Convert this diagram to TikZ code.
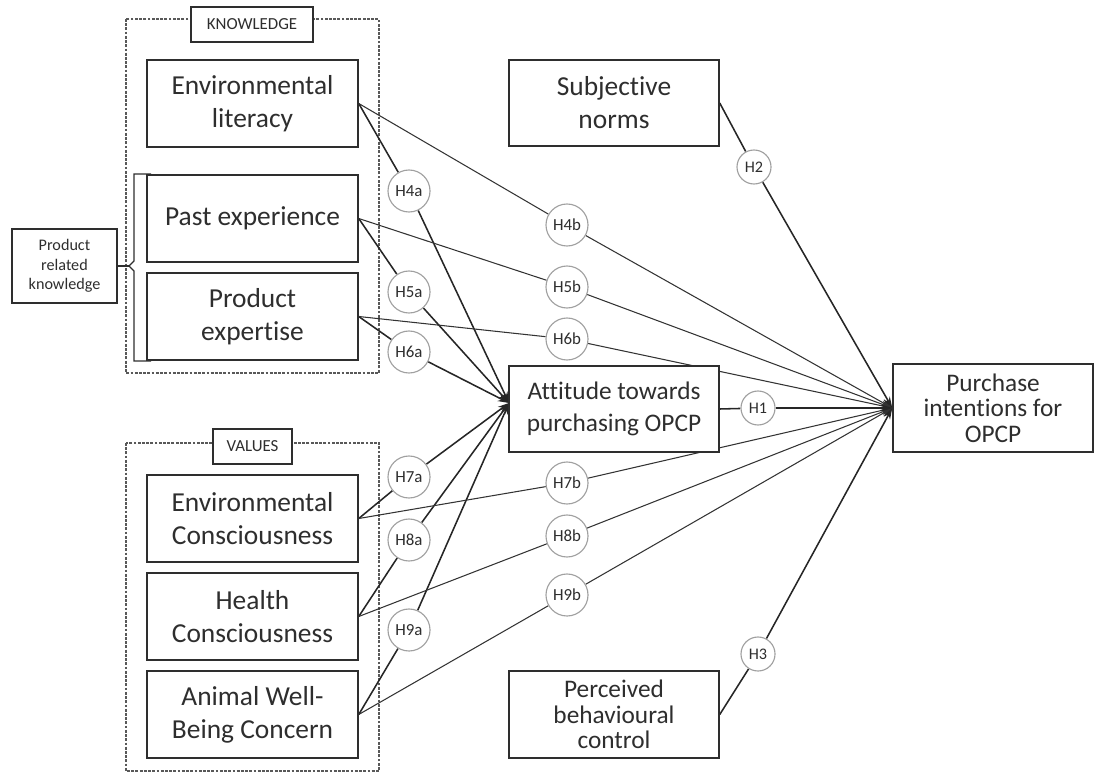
\documentclass[tikz,border=0pt]{standalone}
\usepackage{fontspec}
\setmainfont{Carlito}[Ligatures=NoCommon]
\usetikzlibrary{arrows.meta}
\pgfdeclarelayer{back}
\pgfsetlayers{back,main}
\definecolor{ink}{HTML}{2E2E2E}
\definecolor{ring}{HTML}{A0A0A0}
\tikzset{
	constr/.style={draw=ink, line width=1pt, fill=white, align=center, text=ink, inner sep=1pt,
		minimum width=5.275cm, minimum height=2.175cm, font=\fontsize{19.5}{23.5}\selectfont},
	tag/.style={draw=ink, line width=0.9pt, fill=white, align=center, text=ink, inner sep=1pt,
		minimum height=0.875cm, font=\fontsize{11.5}{14}\selectfont},
	frame/.style={draw=black!65, line width=0.8pt, dash pattern=on 2pt off 1pt},
	hyp/.style={circle, draw=ring, line width=0.8pt, fill=white, text=ink, inner sep=0pt,
		minimum size=1.05cm, font=\fontsize{12}{14}\selectfont},
	hypsm/.style={hyp, minimum size=0.85cm, font=\fontsize{11.5}{14}\selectfont},
	apath/.style={draw=black!85, line width=1.1pt},
	bpath/.style={draw=black!80, line width=0.75pt},
	tip/.style={-{Stealth[length=8pt,width=5pt]}}
}

\begin{document}
\begin{tikzpicture}[x=0.025cm, y=-0.025cm]
	%%%%% START %%%%%
	\useasboundingbox (0,0) rectangle (1096,773);
	
	% knowledge block
	\node[constr] (envlit) at (252.5, 103.5) {Environmental\\literacy};
	\node[constr] (pastexp) at (252.5, 218.5) {Past experience};
	\node[constr] (prodexp) at (252.5, 316.5) {Product\\expertise};
	\node[tag, minimum width=3.05cm, font=\fontsize{12}{14}\selectfont] (know) at (252, 24.5) {KNOWLEDGE};
	\node[tag, minimum width=2.625cm, minimum height=1.85cm] (prk) at (64.5, 266) {Product\\related\\knowledge};
	\coordinate (brk) at (129, 266);
	
	% values block
	\node[constr] (envcon) at (252.5, 518.5) {Environmental\\Consciousness};
	\node[constr] (health) at (252.5, 616.5) {Health\\Consciousness};
	\node[constr] (animal) at (252.5, 714.5) {Animal Well-\\Being Concern};
	\node[tag, minimum width=1.975cm, font=\fontsize{12}{14}\selectfont] (vals) at (252.5, 446.5) {VALUES};
	
	% middle and right
	\node[constr, minimum width=5.25cm, minimum height=2.15cm] (subj) at (614, 103) {Subjective\\norms};
	\node[constr, minimum width=5.25cm, minimum height=2.15cm, font=\fontsize{18}{22.5}\selectfont] (att) at (614, 409) {Attitude towards\\purchasing OPCP};
	\node[constr, minimum width=5.25cm, minimum height=2.175cm, font=\fontsize{18}{18}\selectfont] (pbc) at (614, 714.5) {Perceived\\behavioural\\control};
	\node[constr, minimum width=5cm, minimum height=2.2cm, font=\fontsize{18}{18}\selectfont] (pur) at (993, 408) {Purchase\\intentions for\\OPCP};
	\coordinate (attin) at (509, 403);
	
	% hypotheses
	\node[hyp] (h4a) at (409, 191) {H4a};
	\node[hyp] (h5a) at (409, 292) {H5a};
	\node[hyp] (h6a) at (409, 352) {H6a};
	\node[hyp] (h7a) at (409, 477) {H7a};
	\node[hyp] (h8a) at (409, 540) {H8a};
	\node[hyp] (h9a) at (409, 630) {H9a};
	\node[hyp] (h4b) at (567, 225) {H4b};
	\node[hyp] (h5b) at (567, 287) {H5b};
	\node[hyp] (h6b) at (567, 339) {H6b};
	\node[hyp] (h7b) at (567, 483) {H7b};
	\node[hyp] (h8b) at (567, 536) {H8b};
	\node[hyp] (h9b) at (567, 595) {H9b};
	\node[hypsm] (h1) at (758, 408) {H1};
	\node[hypsm] (h2) at (754, 167) {H2};
	\node[hypsm] (h3) at (758, 654) {H3};
	
	\begin{pgfonlayer}{back}
		\draw[frame] (126, 19) rectangle (379, 373);
		\draw[frame] (126, 443) rectangle (379, 771);
		\draw[draw=ink, line width=1pt] (151, 174) -- (134, 174) -- (134, 261) -- (brk) -- (134, 271) -- (134, 361) -- (151, 361);
		\draw[draw=ink, line width=0.9pt] (prk.east) -- (brk);
		
		% paths to attitude
		\draw[apath] (envlit.east) -- (h4a);
		\draw[apath, tip] (h4a) -- (attin);
		\draw[apath] (pastexp.east) -- (h5a);
		\draw[apath, tip] (h5a) -- (attin);
		\draw[apath] (prodexp.east) -- (h6a);
		\draw[apath, tip] (h6a) -- (attin);
		\draw[apath] (envcon.east) -- (h7a);
		\draw[apath, tip] (h7a) -- (attin);
		\draw[apath] (health.east) -- (h8a);
		\draw[apath, tip] (h8a) -- (attin);
		\draw[apath] (animal.east) -- (h9a);
		\draw[apath, tip] (h9a) -- (attin);
		
		% paths to intentions
		\draw[bpath] (envlit.east) -- (h4b);
		\draw[bpath, tip] (h4b) -- (pur.west);
		\draw[bpath] (pastexp.east) -- (h5b);
		\draw[bpath, tip] (h5b) -- (pur.west);
		\draw[bpath] (prodexp.east) -- (h6b);
		\draw[bpath, tip] (h6b) -- (pur.west);
		\draw[bpath] (envcon.east) -- (h7b);
		\draw[bpath, tip] (h7b) -- (pur.west);
		\draw[bpath] (health.east) -- (h8b);
		\draw[bpath, tip] (h8b) -- (pur.west);
		\draw[bpath] (animal.east) -- (h9b);
		\draw[bpath, tip] (h9b) -- (pur.west);
		
		\draw[apath] (att.east) -- (h1);
		\draw[apath, tip] (h1) -- (pur.west);
		\draw[apath] (subj.east) -- (h2);
		\draw[apath, tip] (h2) -- (pur.west);
		\draw[apath] (pbc.east) -- (h3);
		\draw[apath, tip] (h3) -- (pur.west);
	\end{pgfonlayer}
	
	%%%%% END %%%%%
\end{tikzpicture}
\end{document}
